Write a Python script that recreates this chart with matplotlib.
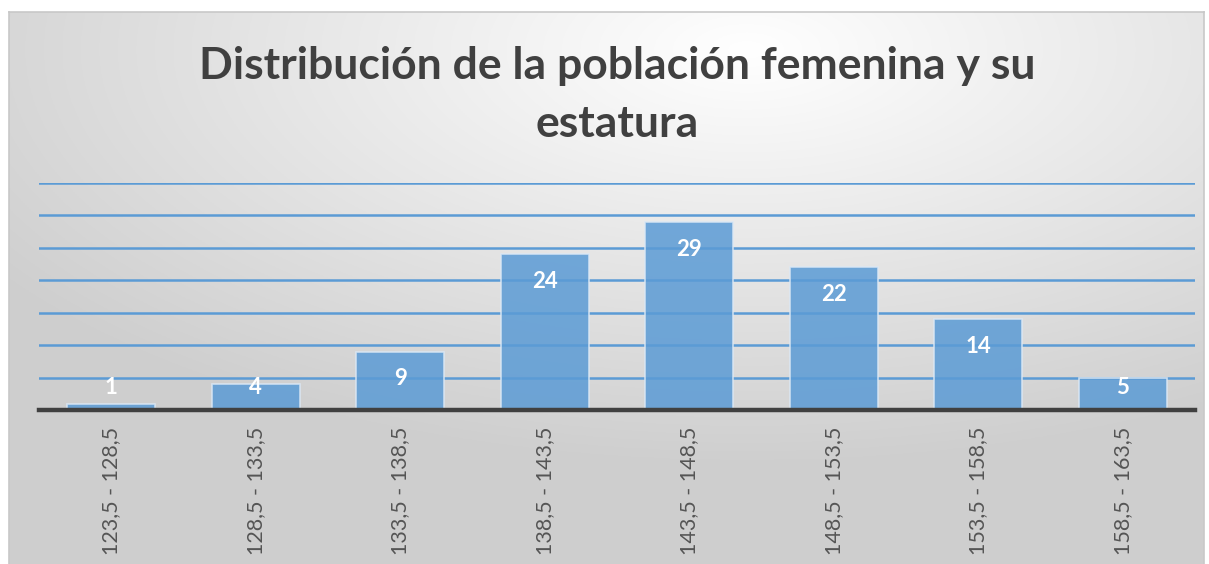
import numpy as np
import matplotlib
matplotlib.use("Agg")
import matplotlib.pyplot as plt

# datos del gráfico
categorias = ["123,5 - 128,5", "128,5 - 133,5", "133,5 - 138,5", "138,5 - 143,5",
              "143,5 - 148,5", "148,5 - 153,5", "153,5 - 158,5", "158,5 - 163,5"]
frecuencias = [1, 4, 9, 24, 29, 22, 14, 5]
titulo = "Distribución de la población femenina y su\nestatura"

W, H = 1209, 564
fig = plt.figure(figsize=(W / 100, H / 100), dpi=100)
fig.patch.set_facecolor("white")

# fondo con degradado radial (área del gráfico)
bg = fig.add_axes([9 / W, 0, (1204 - 9) / W, (H - 12) / H])
yy, xx = np.mgrid[0:300, 0:600]
cx, cy = 370, 20
r = np.sqrt(((xx - cx) / 600) ** 2 + ((yy - cy) / 300) ** 2)
r = np.clip(r / 0.75, 0, 1)
shade = 1.0 - 0.19 * r
img = np.dstack([shade, shade, shade])
bg.imshow(img, aspect="auto", extent=[0, 1, 0, 1], origin="upper")
bg.set_xlim(0, 1)
bg.set_ylim(0, 1)
bg.set_xticks([])
bg.set_yticks([])
for s in bg.spines.values():
    s.set_color("#c8c8c8")
    s.set_linewidth(1.2)
bg.spines["bottom"].set_visible(False)

ax = fig.add_axes([39 / W, 1 - 410 / H, (1195 - 39) / W, (410 - 183) / H])
ax.set_facecolor("none")
x = np.arange(len(categorias))
ax.bar(x, frecuencias, width=0.61, color="#5b9bd5", alpha=0.85,
       edgecolor="#dbe8f5", linewidth=1.2, zorder=3)

ax.set_ylim(0, 35)
ax.set_xlim(-0.5, len(categorias) - 0.5)
ax.set_yticks(np.arange(5, 36, 5))
ax.yaxis.grid(True, color="#5b9bd5", linewidth=1.8, zorder=1)
ax.set_axisbelow(True)
ax.tick_params(axis="y", left=False, labelleft=False)
ax.tick_params(axis="x", length=0, pad=12)
ax.set_xticks(x)
ax.set_xticklabels(categorias, rotation=90, fontsize=15.5, color="#555555",
                   family="Lato")
for s in ["top", "left", "right"]:
    ax.spines[s].set_visible(False)
ax.spines["bottom"].set_color("#404040")
ax.spines["bottom"].set_linewidth(3.2)
ax.spines["bottom"].set_zorder(4)

for xi, v in zip(x, frecuencias):
    ax.text(xi, max(v - 4.2, 3.5), str(v), ha="center", va="center",
            color="white", fontsize=16, fontweight="bold", family="Lato",
            zorder=5)

fig.text(617 / W, 1 - 95 / H, titulo, ha="center", va="center",
         fontsize=32, fontweight="bold", color="#404040", family="Lato",
         linespacing=1.55)

fig.savefig("out.png", dpi=100)
